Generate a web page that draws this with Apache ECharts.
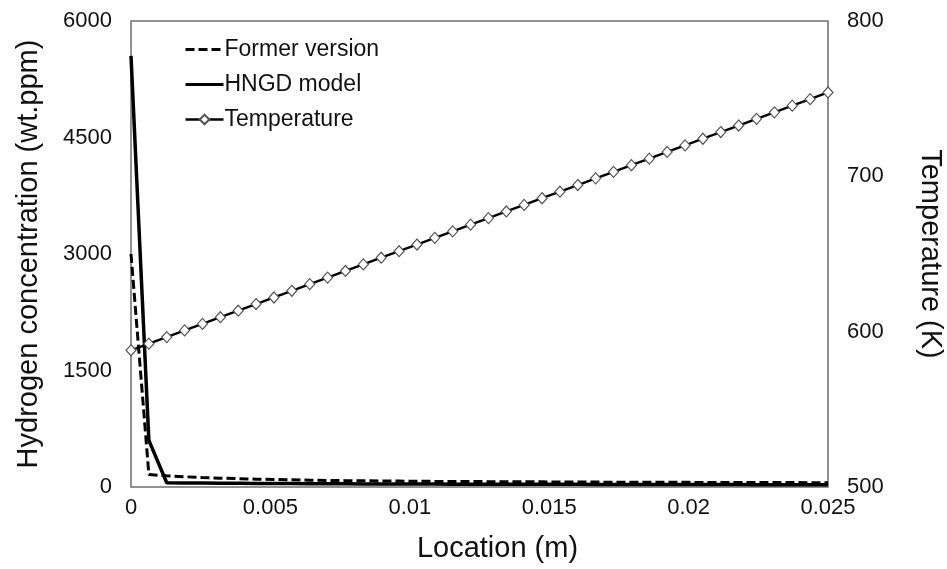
<!DOCTYPE html>
<html>
<head>
<meta charset="utf-8">
<script src="https://cdn.jsdelivr.net/npm/echarts@6/dist/echarts.min.js"></script>
<style>
  html, body { margin: 0; padding: 0; background: #fff; }
  #chart { width: 947px; height: 569px; }
</style>
</head>
<body>
<div id="chart"></div>
<script>
// Location along the cladding (m)
const locations = [0, 0.000641, 0.001282, 0.001923, 0.002564, 0.003205, 0.003846, 0.004487,
  0.005128, 0.005769, 0.006410, 0.007051, 0.007692, 0.008333, 0.008974, 0.009615,
  0.010256, 0.010897, 0.011538, 0.012179, 0.012821, 0.013462, 0.014103, 0.014744,
  0.015385, 0.016026, 0.016667, 0.017308, 0.017949, 0.018590, 0.019231, 0.019872,
  0.020513, 0.021154, 0.021795, 0.022436, 0.023077, 0.023718, 0.024359, 0.025];

// Hydrogen concentration (wt.ppm), former version
const formerVersion = [3000, 160, 145, 132, 122, 114, 107, 101, 96, 92, 88, 85, 82, 80, 78, 76,
  74, 72, 71, 70, 69, 68, 67, 66, 65, 64, 63, 62, 62, 61, 60, 60, 59, 59, 58, 58, 57, 57, 56, 56];

// Hydrogen concentration (wt.ppm), HNGD model
const hngdModel = [5550, 600, 55, 52, 50, 48, 47, 46, 45, 44, 43, 42, 41, 40, 40, 39,
  38, 38, 37, 37, 36, 36, 35, 35, 34, 34, 33, 33, 33, 32, 32, 32, 31, 31, 31, 30, 30, 30, 30, 30];

// Temperature (K)
const temperature = [588, 592.3, 596.5, 600.8, 605.0, 609.3, 613.5, 617.8, 622.0, 626.3,
  630.6, 634.8, 639.1, 643.3, 647.6, 651.8, 656.1, 660.4, 664.6, 668.9,
  673.1, 677.4, 681.6, 685.9, 690.1, 694.4, 698.7, 702.9, 707.2, 711.4,
  715.7, 719.9, 724.2, 728.5, 732.7, 737.0, 741.2, 745.5, 749.7, 754.0];

const seriesNames = ['Former version', 'HNGD model', 'Temperature'];

const pair = (ys) => locations.map((x, i) => [x, ys[i]]);
const plain = (v) => String(v);

const FONT = '"Liberation Sans", Arial, Helvetica, sans-serif';
const TICK = { fontFamily: FONT, fontSize: 22, color: '#111' };
const TITLE = { fontFamily: FONT, fontSize: 29, color: '#111' };

const chart = echarts.init(document.getElementById('chart'), null, { renderer: 'canvas' });

chart.setOption({
  animation: false,
  backgroundColor: '#fff',
  textStyle: { fontFamily: FONT, color: '#111' },
  grid: {
    left: 131, right: 119, top: 21, bottom: 82,
    outerBoundsMode: 'none',
    containLabel: false,
    show: true, borderColor: '#6e6e6e', borderWidth: 1.5, backgroundColor: 'transparent'
  },
  legend: {
    orient: 'vertical',
    left: 179, top: 33,
    itemWidth: 38, itemHeight: 12, itemGap: 12,
    data: [
      // line-only entries: hide the marker, keep the stroke
      { name: seriesNames[0], itemStyle: { opacity: 0 }, lineStyle: { width: 3 } },
      { name: seriesNames[1], itemStyle: { opacity: 0 }, lineStyle: { width: 3 } },
      { name: seriesNames[2], lineStyle: { width: 2.4 } }
    ],
    textStyle: { fontFamily: FONT, fontSize: 23, color: '#111', padding: [0, 0, 0, -4] }
  },
  xAxis: {
    type: 'value',
    min: 0, max: 0.025, interval: 0.005,
    name: 'Location (m)',
    nameLocation: 'middle', nameGap: 47,
    nameTextStyle: Object.assign({ padding: [0, 0, 0, 36] }, TITLE),
    axisLine: { show: false },
    axisTick: { show: false },
    splitLine: { show: false },
    axisLabel: Object.assign({ margin: 10, formatter: plain }, TICK)
  },
  yAxis: [
    {
      type: 'value',
      min: 0, max: 6000, interval: 1500,
      name: 'Hydrogen concentration (wt.ppm)',
      nameLocation: 'middle', nameGap: 88,
      nameTextStyle: TITLE,
      axisLine: { show: false },
      axisTick: { show: false },
      splitLine: { show: false },
      axisLabel: Object.assign({ margin: 19, formatter: plain }, TICK)
    },
    {
      type: 'value',
      min: 500, max: 800, interval: 100,
      position: 'right',
      name: 'Temperature (K)',
      nameLocation: 'middle', nameGap: 87, nameRotate: -90,
      nameTextStyle: TITLE,
      axisLine: { show: false },
      axisTick: { show: false },
      splitLine: { show: false },
      axisLabel: Object.assign({ margin: 19, formatter: plain }, TICK)
    }
  ],
  series: [
    {
      name: seriesNames[0],
      type: 'line',
      yAxisIndex: 0,
      data: pair(formerVersion),
      symbol: 'none',
      lineStyle: { color: '#000', width: 3, type: [9, 4] },
      itemStyle: { color: '#000' },
      z: 3
    },
    {
      name: seriesNames[1],
      type: 'line',
      yAxisIndex: 0,
      data: pair(hngdModel),
      symbol: 'none',
      lineStyle: { color: '#000', width: 3.5 },
      itemStyle: { color: '#000' },
      z: 2
    },
    {
      name: seriesNames[2],
      type: 'line',
      yAxisIndex: 1,
      data: pair(temperature),
      symbol: 'diamond',
      symbolSize: [10, 11],
      showAllSymbol: true,
      lineStyle: { color: '#000', width: 2.4 },
      itemStyle: { color: '#fff', borderColor: '#555', borderWidth: 1.2 },
      z: 4
    }
  ]
});
</script>
</body>
</html>
